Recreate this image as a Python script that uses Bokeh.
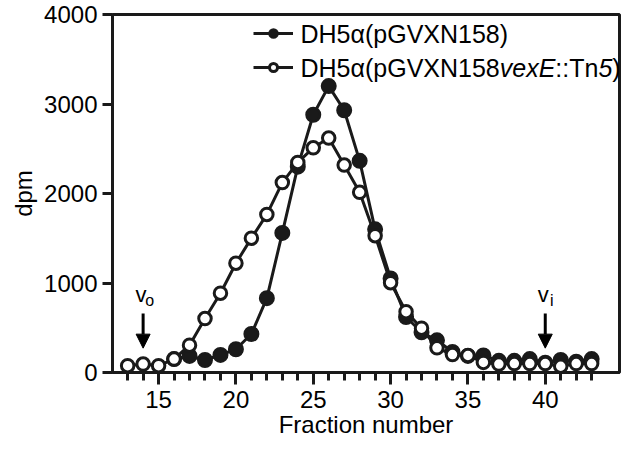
from bokeh.plotting import figure
from bokeh.models import (Range1d, FixedTicker, Legend, LegendItem, Label, Arrow, NormalHead)
from bokeh.embed import file_html
from bokeh.resources import INLINE

# ---- data ----
fraction_open = list(range(13, 44))
dpm_open = [76, 94, 76, 150, 305, 603, 886, 1221, 1501, 1766, 2122, 2347, 2510, 2619,
            2318, 2013, 1529, 1003, 680, 495, 276, 200, 190, 113, 94, 100, 100, 100, 70, 100, 100]
fraction_filled = list(range(16, 44))
dpm_filled = [150, 185, 140, 196, 260, 430, 830, 1560, 2300, 2880, 3200, 2930, 2365, 1600,
              1050, 620, 450, 360, 230, 185, 190, 130, 130, 150, 110, 140, 120, 150]
series_names = ["DH5α(pGVXN158)", "DH5α(pGVXN158vexE::Tn5)"]
x_labeled = [15, 20, 25, 30, 35, 40]
y_major = [0, 1000, 2000, 3000, 4000]
marker_fractions = [14, 40]      # Vo, Vi
marker_subs = ["o", "i"]

INK = "#1a1a1a"
FONT = "Liberation Sans"

p = figure(width=621, height=444, output_backend="svg", toolbar_location=None,
           x_range=Range1d(12.02, 44.8), y_range=Range1d(0, 4000),
           min_border_left=112, min_border_right=2, min_border_top=14, min_border_bottom=72)
p.background_fill_color = "white"
p.border_fill_color = "white"
p.outline_line_color = INK
p.outline_line_width = 3
p.xgrid.visible = False
p.ygrid.visible = False

xa = p.xaxis[0]
ya = p.yaxis[0]
for ax in (xa, ya):
    ax.axis_line_width = 3
    ax.axis_line_color = INK
    ax.major_tick_line_width = 3
    ax.major_tick_line_color = INK
    ax.minor_tick_line_width = 3
    ax.minor_tick_line_color = INK
    ax.major_tick_in = 0
    ax.minor_tick_in = 0
    ax.major_label_text_font = FONT
    ax.major_label_text_font_size = "24px"
    ax.major_label_text_color = "black"
    ax.axis_label_text_font = FONT
    ax.axis_label_text_font_size = "24px"
    ax.axis_label_text_font_style = "normal"
    ax.axis_label_text_color = "black"

# every fraction gets a short tick; labelled fractions get a longer one
xa.ticker = FixedTicker(ticks=fraction_open, minor_ticks=x_labeled)
xa.major_label_overrides = {f: ("" if f not in x_labeled else str(f)) for f in fraction_open}
xa.major_tick_out = 8
xa.minor_tick_out = 12
xa.major_label_standoff = 6
xa.axis_label = "Fraction number"
xa.axis_label_standoff = 0

ya.ticker = FixedTicker(ticks=y_major)
ya.major_tick_out = 10
ya.minor_tick_out = 0
ya.minor_tick_line_color = None
ya.major_label_standoff = 5
ya.axis_label = "dpm"
ya.axis_label_standoff = 4

# filled series
l1 = p.line(fraction_filled, dpm_filled, line_color=INK, line_width=3)
s1 = p.scatter(fraction_filled, dpm_filled, size=13.5, marker="circle",
               fill_color=INK, line_color=INK, line_width=2.5)
# open series (on top)
l2 = p.line(fraction_open, dpm_open, line_color=INK, line_width=3)
s2 = p.scatter(fraction_open, dpm_open, size=12.5, marker="circle",
               fill_color="white", line_color=INK, line_width=3)

legend = Legend(items=[LegendItem(label=" ", renderers=[l1, s1]),
                       LegendItem(label=" ", renderers=[l2, s2])],
                location=(141, 295), orientation="vertical",
                glyph_width=40, glyph_height=20, label_height=20, label_width=0,
                label_standoff=0, spacing=14, padding=0, margin=0,
                border_line_alpha=0, background_fill_alpha=0,
                label_text_font_size="1px")
p.add_layout(legend)

# legend texts (mixed italic)
LEG_FS = 25
widths = {"D": .722, "H": .722, "5": .556, "α": .58, "(": .333, "p": .556, "G": .778,
          "V": .667, "X": .667, "N": .722, "1": .556, "8": .556, ")": .333, "v": .5,
          "e": .556, "x": .5, "E": .667, ":": .278, "T": .611, "n": .556}

def tw(s):
    return sum(widths.get(c, .556) for c in s) * LEG_FS

text_x0 = 188
row_y = [339, 305]
p.add_layout(Label(x=text_x0, y=row_y[0], x_units="screen", y_units="screen",
                   text=series_names[0], text_font=FONT, text_font_size=f"{LEG_FS}px",
                   text_baseline="middle", text_color="black"))
pieces = [("DH5α(pGVXN158", "normal"), ("vexE", "italic"), ("::Tn", "normal"),
          ("5", "italic"), (")", "normal")]
cx = text_x0
for txt, style in pieces:
    p.add_layout(Label(x=cx, y=row_y[1], x_units="screen", y_units="screen",
                       text=txt, text_font=FONT, text_font_size=f"{LEG_FS}px",
                       text_font_style=style, text_baseline="middle", text_color="black"))
    cx += tw(txt)

# Vo / Vi arrows
for fx, sub in zip(marker_fractions, marker_subs):
    p.add_layout(Arrow(end=NormalHead(size=14, fill_color="black", line_color="black", line_width=1),
                       x_start=fx, y_start=660, x_end=fx, y_end=272,
                       line_width=3, line_color="black"))
    p.add_layout(Label(x=fx, y=870, text="v", x_offset=-2, text_align="center",
                       text_baseline="middle", text_font=FONT, text_font_size="22px",
                       text_color="black"))
    p.add_layout(Label(x=fx, y=870, text=sub, x_offset=6.5, y_offset=-6,
                       text_align="center", text_baseline="middle", text_font=FONT,
                       text_font_size="16px", text_color="black"))

open("out.html", "w").write(file_html(p, INLINE))
